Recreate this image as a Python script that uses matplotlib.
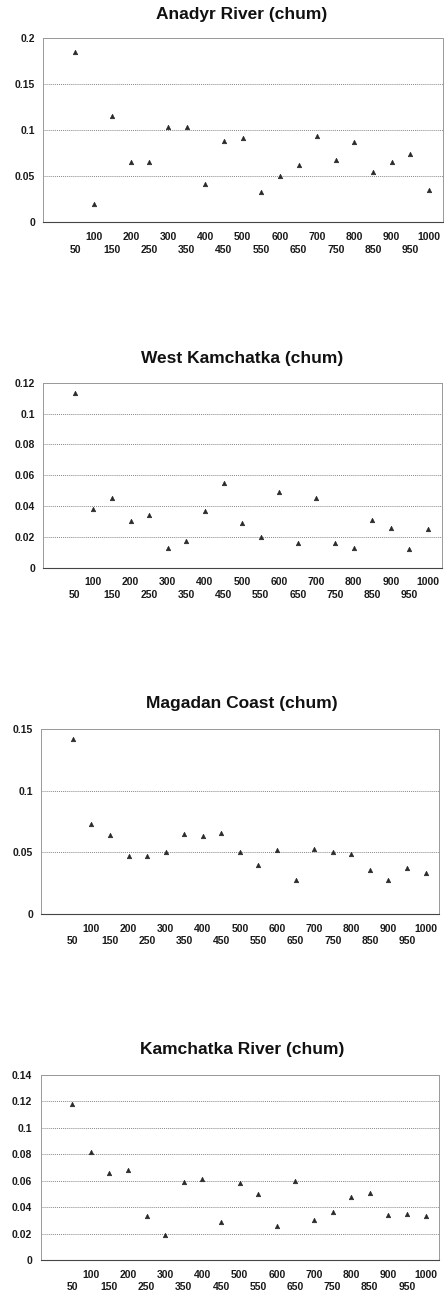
"""Chum panels: four stacked scatter plots of proportion vs distance class."""
import matplotlib
matplotlib.use("Agg")
import matplotlib.pyplot as plt
from matplotlib.ticker import FuncFormatter

distance = [50, 100, 150, 200, 250, 300, 350, 400, 450, 500,
            550, 600, 650, 700, 750, 800, 850, 900, 950, 1000]

anadyr = [0.184, 0.020, 0.115, 0.065, 0.065, 0.103, 0.103, 0.041, 0.088, 0.091,
          0.033, 0.050, 0.062, 0.093, 0.068, 0.087, 0.054, 0.065, 0.074, 0.035]
west_kamchatka = [0.113, 0.038, 0.045, 0.030, 0.034, 0.013, 0.017, 0.037, 0.055, 0.029,
                  0.020, 0.049, 0.016, 0.045, 0.016, 0.013, 0.031, 0.026, 0.012, 0.025]
magadan = [0.142, 0.073, 0.064, 0.047, 0.047, 0.050, 0.065, 0.063, 0.066, 0.050,
           0.040, 0.052, 0.028, 0.053, 0.050, 0.049, 0.036, 0.028, 0.037, 0.033]
kamchatka_river = [0.118, 0.082, 0.066, 0.068, 0.033, 0.019, 0.059, 0.061, 0.029, 0.058,
                   0.050, 0.026, 0.060, 0.030, 0.036, 0.048, 0.051, 0.034, 0.035, 0.033]

titles = ["Anadyr River (chum)", "West Kamchatka (chum)",
          "Magadan Coast (chum)", "Kamchatka River (chum)"]
series = [anadyr, west_kamchatka, magadan, kamchatka_river]
y_max = [0.2, 0.12, 0.15, 0.14]
y_step = [0.05, 0.02, 0.05, 0.02]

W, H = 444, 1297
# left, right, top, bottom in pixels
boxes = [(43.3, 442.7, 37.7, 222.3), (43.3, 441.7, 382.7, 567.7),
         (41.3, 439.3, 729.3, 914.0), (40.7, 439.3, 1075.0, 1260.0)]
title_y = [14.0, 358.3, 703.3, 1049.3]

plt.rcParams["font.family"] = ["Liberation Sans", "DejaVu Sans"]
plt.rcParams["font.weight"] = "bold"

fig = plt.figure(figsize=(W / 100, H / 100), dpi=100)
fmt = FuncFormatter(lambda v, _: f"{round(v, 4):g}")

for i, (vals, ttl) in enumerate(zip(series, titles)):
    l, r, t, b = boxes[i]
    ax = fig.add_axes([l / W, 1 - b / H, (r - l) / W, (b - t) / H])
    ax.plot(distance, vals, linestyle="none", marker="^", ms=3.2,
            color="#2a2a2a", mec="#2a2a2a", mew=0.5, zorder=3)
    ax.set_xlim(-35, 1037)
    ax.set_ylim(0, y_max[i])
    n = int(round(y_max[i] / y_step[i]))
    ax.set_yticks([k * y_step[i] for k in range(n + 1)])
    ax.yaxis.set_major_formatter(fmt)
    ax.yaxis.grid(True, linestyle=(0, (1, 1)), color="#888888", lw=0.7)
    ax.set_axisbelow(True)

    ax.set_xticks(distance[1::2])
    ax.set_xticklabels([str(d) for d in distance[1::2]])
    ax.set_xticks(distance[0::2], minor=True)
    ax.set_xticklabels([str(d) for d in distance[0::2]], minor=True)
    ax.tick_params(axis="x", which="major", length=0, pad=7, labelsize=7.5, colors="#1a1a1a")
    ax.tick_params(axis="x", which="minor", length=0, pad=16, labelsize=7.5, colors="#1a1a1a")
    ax.tick_params(axis="y", length=0, pad=6, labelsize=7.5, colors="#1a1a1a")

    for side in ("left", "top", "right"):
        ax.spines[side].set_linestyle((0, (1, 1)))
        ax.spines[side].set_color("#999999")
        ax.spines[side].set_linewidth(0.7)
    ax.spines["bottom"].set_color("#444444")
    ax.spines["bottom"].set_linewidth(0.8)

    fig.text(0.5 + 20 / W, 1 - title_y[i] / H, ttl, ha="center", va="center",
             fontsize=12.5, fontweight="bold", color="#111111")

fig.savefig("out.png", dpi=100, facecolor="white")
